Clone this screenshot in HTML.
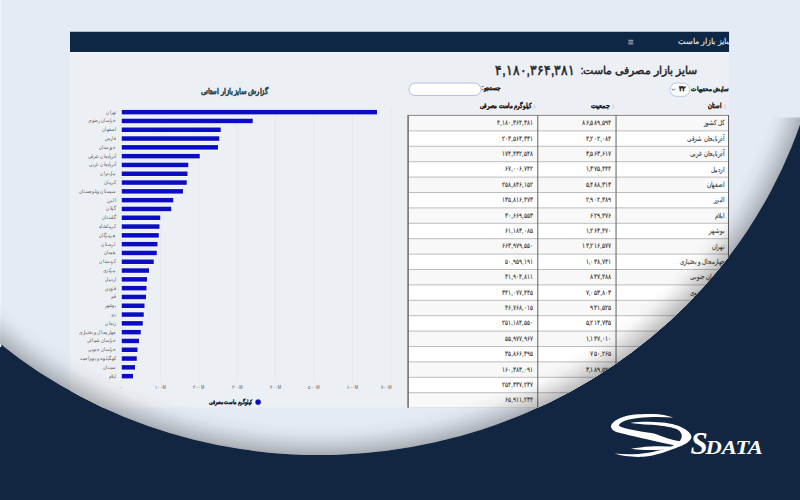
<!DOCTYPE html>
<html lang="fa"><head><meta charset="utf-8"><title>SDATA</title>
<style>
*{box-sizing:border-box;margin:0;padding:0}
html,body{width:800px;height:500px;overflow:hidden;background:#132641;font-family:"Liberation Sans",sans-serif}
.abs{position:absolute}
svg text{font-family:"Liberation Sans",sans-serif;direction:rtl;unicode-bidi:embed}
svg text.ltr{direction:ltr}
</style></head><body>

<svg class="abs" style="left:0;top:0" width="800" height="500" viewBox="0 0 800 500">
<ellipse cx="326.93" cy="-16.67" rx="498.48" ry="471.27" transform="rotate(-7.302 326.93 -16.67)" fill="#e4ebf4"/>
<rect x="0" y="0" width="800" height="117.5" fill="#e4ebf4"/>
<rect x="0" y="0" width="1.2" height="347" fill="#eef3f8"/>
<rect x="70" y="30.5" width="659.2" height="1" fill="#ffffff" opacity="0.4"/>
</svg>

<svg class="abs" style="left:0;top:0" width="800" height="500" viewBox="0 0 800 500">
<defs><clipPath id="ell"><ellipse cx="326.93" cy="-16.67" rx="498.48" ry="471.27" transform="rotate(-7.302 326.93 -16.67)"/></clipPath><clipPath id="shotclip"><rect x="70" y="31.5" width="659.2" height="376.3"/></clipPath></defs><g clip-path="url(#ell)">
<g clip-path="url(#shotclip)">
<rect x="70" y="31.5" width="659.2" height="376.3" fill="#eceff3"/>
<rect x="70" y="31.5" width="659.2" height="20.5" fill="#0d2745"/>
<rect x="70" y="52" width="659.2" height="1" fill="#ffffff" opacity="0.45"/>
<rect x="628.3" y="39.80" width="5" height="1" fill="#a9b2c1"/>
<rect x="628.3" y="41.60" width="5" height="1" fill="#a9b2c1"/>
<rect x="628.3" y="43.40" width="5" height="1" fill="#a9b2c1"/>
<rect x="121.35" y="107.5" width="0.8" height="275" fill="#e4e7eb"/>
<rect x="159.80" y="107.5" width="0.8" height="275" fill="#e4e7eb"/>
<rect x="198.25" y="107.5" width="0.8" height="275" fill="#e4e7eb"/>
<rect x="236.70" y="107.5" width="0.8" height="275" fill="#e4e7eb"/>
<rect x="275.15" y="107.5" width="0.8" height="275" fill="#e4e7eb"/>
<rect x="313.60" y="107.5" width="0.8" height="275" fill="#e4e7eb"/>
<rect x="352.05" y="107.5" width="0.8" height="275" fill="#e4e7eb"/>
<rect x="390.50" y="107.5" width="0.8" height="275" fill="#e4e7eb"/>
<rect x="120.95" y="109.10" width="256.85" height="6.10" fill="#fafbfd" opacity="0.8"/>
<rect x="121.75" y="109.90" width="255.25" height="4.50" fill="#0c0cc4"/>
<rect x="120.95" y="117.90" width="132.60" height="6.10" fill="#fafbfd" opacity="0.8"/>
<rect x="121.75" y="118.70" width="131.00" height="4.50" fill="#0c0cc4"/>
<rect x="120.95" y="126.70" width="100.60" height="6.10" fill="#fafbfd" opacity="0.8"/>
<rect x="121.75" y="127.50" width="99.00" height="4.50" fill="#0c0cc4"/>
<rect x="120.95" y="135.50" width="99.10" height="6.10" fill="#fafbfd" opacity="0.8"/>
<rect x="121.75" y="136.30" width="97.50" height="4.50" fill="#0c0cc4"/>
<rect x="120.95" y="144.30" width="97.85" height="6.10" fill="#fafbfd" opacity="0.8"/>
<rect x="121.75" y="145.10" width="96.25" height="4.50" fill="#0c0cc4"/>
<rect x="120.95" y="153.10" width="79.60" height="6.10" fill="#fafbfd" opacity="0.8"/>
<rect x="121.75" y="153.90" width="78.00" height="4.50" fill="#0c0cc4"/>
<rect x="120.95" y="161.90" width="68.10" height="6.10" fill="#fafbfd" opacity="0.8"/>
<rect x="121.75" y="162.70" width="66.50" height="4.50" fill="#0c0cc4"/>
<rect x="120.95" y="170.70" width="67.35" height="6.10" fill="#fafbfd" opacity="0.8"/>
<rect x="121.75" y="171.50" width="65.75" height="4.50" fill="#0c0cc4"/>
<rect x="120.95" y="179.50" width="66.60" height="6.10" fill="#fafbfd" opacity="0.8"/>
<rect x="121.75" y="180.30" width="65.00" height="4.50" fill="#0c0cc4"/>
<rect x="120.95" y="188.30" width="62.85" height="6.10" fill="#fafbfd" opacity="0.8"/>
<rect x="121.75" y="189.10" width="61.25" height="4.50" fill="#0c0cc4"/>
<rect x="120.95" y="197.10" width="53.10" height="6.10" fill="#fafbfd" opacity="0.8"/>
<rect x="121.75" y="197.90" width="51.50" height="4.50" fill="#0c0cc4"/>
<rect x="120.95" y="205.90" width="51.10" height="6.10" fill="#fafbfd" opacity="0.8"/>
<rect x="121.75" y="206.70" width="49.50" height="4.50" fill="#0c0cc4"/>
<rect x="120.95" y="214.70" width="40.10" height="6.10" fill="#fafbfd" opacity="0.8"/>
<rect x="121.75" y="215.50" width="38.50" height="4.50" fill="#0c0cc4"/>
<rect x="120.95" y="223.50" width="39.35" height="6.10" fill="#fafbfd" opacity="0.8"/>
<rect x="121.75" y="224.30" width="37.75" height="4.50" fill="#0c0cc4"/>
<rect x="120.95" y="232.30" width="38.60" height="6.10" fill="#fafbfd" opacity="0.8"/>
<rect x="121.75" y="233.10" width="37.00" height="4.50" fill="#0c0cc4"/>
<rect x="120.95" y="241.10" width="37.35" height="6.10" fill="#fafbfd" opacity="0.8"/>
<rect x="121.75" y="241.90" width="35.75" height="4.50" fill="#0c0cc4"/>
<rect x="120.95" y="249.90" width="36.60" height="6.10" fill="#fafbfd" opacity="0.8"/>
<rect x="121.75" y="250.70" width="35.00" height="4.50" fill="#0c0cc4"/>
<rect x="120.95" y="258.70" width="33.60" height="6.10" fill="#fafbfd" opacity="0.8"/>
<rect x="121.75" y="259.50" width="32.00" height="4.50" fill="#0c0cc4"/>
<rect x="120.95" y="267.50" width="28.85" height="6.10" fill="#fafbfd" opacity="0.8"/>
<rect x="121.75" y="268.30" width="27.25" height="4.50" fill="#0c0cc4"/>
<rect x="120.95" y="276.30" width="26.85" height="6.10" fill="#fafbfd" opacity="0.8"/>
<rect x="121.75" y="277.10" width="25.25" height="4.50" fill="#0c0cc4"/>
<rect x="120.95" y="285.10" width="26.35" height="6.10" fill="#fafbfd" opacity="0.8"/>
<rect x="121.75" y="285.90" width="24.75" height="4.50" fill="#0c0cc4"/>
<rect x="120.95" y="293.90" width="25.85" height="6.10" fill="#fafbfd" opacity="0.8"/>
<rect x="121.75" y="294.70" width="24.25" height="4.50" fill="#0c0cc4"/>
<rect x="120.95" y="302.70" width="24.35" height="6.10" fill="#fafbfd" opacity="0.8"/>
<rect x="121.75" y="303.50" width="22.75" height="4.50" fill="#0c0cc4"/>
<rect x="120.95" y="311.50" width="23.60" height="6.10" fill="#fafbfd" opacity="0.8"/>
<rect x="121.75" y="312.30" width="22.00" height="4.50" fill="#0c0cc4"/>
<rect x="120.95" y="320.30" width="22.60" height="6.10" fill="#fafbfd" opacity="0.8"/>
<rect x="121.75" y="321.10" width="21.00" height="4.50" fill="#0c0cc4"/>
<rect x="120.95" y="329.10" width="20.60" height="6.10" fill="#fafbfd" opacity="0.8"/>
<rect x="121.75" y="329.90" width="19.00" height="4.50" fill="#0c0cc4"/>
<rect x="120.95" y="337.90" width="18.85" height="6.10" fill="#fafbfd" opacity="0.8"/>
<rect x="121.75" y="338.70" width="17.25" height="4.50" fill="#0c0cc4"/>
<rect x="120.95" y="346.70" width="17.35" height="6.10" fill="#fafbfd" opacity="0.8"/>
<rect x="121.75" y="347.50" width="15.75" height="4.50" fill="#0c0cc4"/>
<rect x="120.95" y="355.50" width="16.60" height="6.10" fill="#fafbfd" opacity="0.8"/>
<rect x="121.75" y="356.30" width="15.00" height="4.50" fill="#0c0cc4"/>
<rect x="120.95" y="364.30" width="14.85" height="6.10" fill="#fafbfd" opacity="0.8"/>
<rect x="121.75" y="365.10" width="13.25" height="4.50" fill="#0c0cc4"/>
<rect x="120.95" y="373.10" width="12.85" height="6.10" fill="#fafbfd" opacity="0.8"/>
<rect x="121.75" y="373.90" width="11.25" height="4.50" fill="#0c0cc4"/>
<circle cx="258.1" cy="402.1" r="2.6" fill="#0b0bd0" stroke="#1a1a80" stroke-width="0.4"/>
<rect x="670" y="83" width="19.7" height="13.3" rx="6.65" fill="#fbfcfe" stroke="#b3c2e2" stroke-width="0.9"/>
<path d="M671.9,88.7 L673.4,90.3 L674.9,88.7" fill="none" stroke="#3a3a3a" stroke-width="0.75"/>
<rect x="409" y="83.1" width="72" height="12.4" rx="6.2" fill="#ffffff" stroke="#a9badf" stroke-width="0.9"/>
<rect x="533.20" y="104.3" width="2.4" height="4.8" rx="1.2" fill="#dcdde0"/>
<rect x="611.90" y="104.3" width="2.4" height="4.8" rx="1.2" fill="#dcdde0"/>
<rect x="723.80" y="104.3" width="2.4" height="4.8" rx="1.2" fill="#dcdde0"/>
<rect x="408" y="115.30" width="320.6" height="15.40" fill="#f8f8f8"/>
<rect x="408" y="115.00" width="320.6" height="1" fill="#bdbdbd"/>
<rect x="408" y="130.70" width="320.6" height="15.40" fill="#ffffff"/>
<rect x="408" y="130.40" width="320.6" height="1" fill="#bdbdbd"/>
<rect x="408" y="146.10" width="320.6" height="15.40" fill="#f8f8f8"/>
<rect x="408" y="145.80" width="320.6" height="1" fill="#bdbdbd"/>
<rect x="408" y="161.50" width="320.6" height="15.40" fill="#ffffff"/>
<rect x="408" y="161.20" width="320.6" height="1" fill="#bdbdbd"/>
<rect x="408" y="176.90" width="320.6" height="15.40" fill="#f8f8f8"/>
<rect x="408" y="176.60" width="320.6" height="1" fill="#bdbdbd"/>
<rect x="408" y="192.30" width="320.6" height="15.40" fill="#ffffff"/>
<rect x="408" y="192.00" width="320.6" height="1" fill="#bdbdbd"/>
<rect x="408" y="207.70" width="320.6" height="15.40" fill="#f8f8f8"/>
<rect x="408" y="207.40" width="320.6" height="1" fill="#bdbdbd"/>
<rect x="408" y="223.10" width="320.6" height="15.40" fill="#ffffff"/>
<rect x="408" y="222.80" width="320.6" height="1" fill="#bdbdbd"/>
<rect x="408" y="238.50" width="320.6" height="15.40" fill="#f8f8f8"/>
<rect x="408" y="238.20" width="320.6" height="1" fill="#bdbdbd"/>
<rect x="408" y="253.90" width="320.6" height="15.40" fill="#ffffff"/>
<rect x="408" y="253.60" width="320.6" height="1" fill="#bdbdbd"/>
<rect x="408" y="269.30" width="320.6" height="15.40" fill="#f8f8f8"/>
<rect x="408" y="269.00" width="320.6" height="1" fill="#bdbdbd"/>
<rect x="408" y="284.70" width="320.6" height="15.40" fill="#ffffff"/>
<rect x="408" y="284.40" width="320.6" height="1" fill="#bdbdbd"/>
<rect x="408" y="300.10" width="320.6" height="15.40" fill="#f8f8f8"/>
<rect x="408" y="299.80" width="320.6" height="1" fill="#bdbdbd"/>
<rect x="408" y="315.50" width="320.6" height="15.40" fill="#ffffff"/>
<rect x="408" y="315.20" width="320.6" height="1" fill="#bdbdbd"/>
<rect x="408" y="330.90" width="320.6" height="15.40" fill="#f8f8f8"/>
<rect x="408" y="330.60" width="320.6" height="1" fill="#bdbdbd"/>
<rect x="408" y="346.30" width="320.6" height="15.40" fill="#ffffff"/>
<rect x="408" y="346.00" width="320.6" height="1" fill="#bdbdbd"/>
<rect x="408" y="361.70" width="320.6" height="15.40" fill="#f8f8f8"/>
<rect x="408" y="361.40" width="320.6" height="1" fill="#bdbdbd"/>
<rect x="408" y="377.10" width="320.6" height="15.40" fill="#ffffff"/>
<rect x="408" y="376.80" width="320.6" height="1" fill="#bdbdbd"/>
<rect x="408" y="392.50" width="320.6" height="15.40" fill="#f8f8f8"/>
<rect x="408" y="392.20" width="320.6" height="1" fill="#bdbdbd"/>
<rect x="408" y="407.90" width="320.6" height="15.40" fill="#ffffff"/>
<rect x="408" y="407.60" width="320.6" height="1" fill="#bdbdbd"/>
<rect x="408" y="114.9" width="320.6" height="1" fill="#8e8e8e"/>
<rect x="407.3" y="115" width="1.6" height="300" fill="#747474"/>
<rect x="537.2" y="115" width="1.1" height="300" fill="#6f6f6f"/>
<rect x="615.5" y="115" width="1.1" height="300" fill="#6f6f6f"/>
<rect x="728" y="115" width="1.1" height="300" fill="#5e5e5e"/>
</g>
<defs><clipPath id="hclip"><rect x="70" y="31.5" width="659.2" height="20.5"/></clipPath></defs>
<g clip-path="url(#hclip)"><text x="732.8" y="44.4" font-size="8.4" fill="#e6eaf0" stroke="#e6eaf0" stroke-width="0.12" text-anchor="start" textLength="54.8" lengthAdjust="spacingAndGlyphs">سایز بازار ماست</text></g>
<g clip-path="url(#shotclip)">
<text x="268.10" y="93.80" font-size="7.60" fill="#2d4a4f" text-anchor="start" font-weight="bold" stroke="#2d4a4f" stroke-width="0.25" textLength="67.50" lengthAdjust="spacingAndGlyphs">گزارش سایز بازار استانی</text>
<text x="115.60" y="113.65" font-size="5.40" fill="#686868" text-anchor="start" stroke="#686868" stroke-width="0.06" textLength="9.35" lengthAdjust="spacingAndGlyphs">تهران</text>
<text x="115.60" y="122.45" font-size="5.40" fill="#686868" text-anchor="start" stroke="#686868" stroke-width="0.06" textLength="27.20" lengthAdjust="spacingAndGlyphs">خراسان رضوی</text>
<text x="115.60" y="131.25" font-size="5.40" fill="#686868" text-anchor="start" stroke="#686868" stroke-width="0.06" textLength="13.60" lengthAdjust="spacingAndGlyphs">اصفهان</text>
<text x="115.60" y="140.05" font-size="5.40" fill="#686868" text-anchor="start" stroke="#686868" stroke-width="0.06" textLength="10.20" lengthAdjust="spacingAndGlyphs">فارس</text>
<text x="115.60" y="148.85" font-size="5.40" fill="#686868" text-anchor="start" stroke="#686868" stroke-width="0.06" textLength="17.00" lengthAdjust="spacingAndGlyphs">خوزستان</text>
<text x="115.60" y="157.65" font-size="5.40" fill="#686868" text-anchor="start" stroke="#686868" stroke-width="0.06" textLength="28.05" lengthAdjust="spacingAndGlyphs">آذربایجان شرقی</text>
<text x="115.60" y="166.45" font-size="5.40" fill="#686868" text-anchor="start" stroke="#686868" stroke-width="0.06" textLength="26.35" lengthAdjust="spacingAndGlyphs">آذربایجان غربی</text>
<text x="115.60" y="175.25" font-size="5.40" fill="#686868" text-anchor="start" stroke="#686868" stroke-width="0.06" textLength="15.30" lengthAdjust="spacingAndGlyphs">مازندران</text>
<text x="115.60" y="184.05" font-size="5.40" fill="#686868" text-anchor="start" stroke="#686868" stroke-width="0.06" textLength="11.90" lengthAdjust="spacingAndGlyphs">کرمان</text>
<text x="115.60" y="192.85" font-size="5.40" fill="#686868" text-anchor="start" stroke="#686868" stroke-width="0.06" textLength="36.55" lengthAdjust="spacingAndGlyphs">سیستان وبلوچستان</text>
<text x="115.60" y="201.65" font-size="5.40" fill="#686868" text-anchor="start" stroke="#686868" stroke-width="0.06" textLength="8.50" lengthAdjust="spacingAndGlyphs">البرز</text>
<text x="115.60" y="210.45" font-size="5.40" fill="#686868" text-anchor="start" stroke="#686868" stroke-width="0.06" textLength="9.35" lengthAdjust="spacingAndGlyphs">گیلان</text>
<text x="115.60" y="219.25" font-size="5.40" fill="#686868" text-anchor="start" stroke="#686868" stroke-width="0.06" textLength="13.60" lengthAdjust="spacingAndGlyphs">گلستان</text>
<text x="115.60" y="228.05" font-size="5.40" fill="#686868" text-anchor="start" stroke="#686868" stroke-width="0.06" textLength="17.00" lengthAdjust="spacingAndGlyphs">کرمانشاه</text>
<text x="115.60" y="236.85" font-size="5.40" fill="#686868" text-anchor="start" stroke="#686868" stroke-width="0.06" textLength="17.00" lengthAdjust="spacingAndGlyphs">هرمزگان</text>
<text x="115.60" y="245.65" font-size="5.40" fill="#686868" text-anchor="start" stroke="#686868" stroke-width="0.06" textLength="14.45" lengthAdjust="spacingAndGlyphs">لرستان</text>
<text x="115.60" y="254.45" font-size="5.40" fill="#686868" text-anchor="start" stroke="#686868" stroke-width="0.06" textLength="11.90" lengthAdjust="spacingAndGlyphs">همدان</text>
<text x="115.60" y="263.25" font-size="5.40" fill="#686868" text-anchor="start" stroke="#686868" stroke-width="0.06" textLength="16.15" lengthAdjust="spacingAndGlyphs">کردستان</text>
<text x="115.60" y="272.05" font-size="5.40" fill="#686868" text-anchor="start" stroke="#686868" stroke-width="0.06" textLength="12.75" lengthAdjust="spacingAndGlyphs">مرکزی</text>
<text x="115.60" y="280.85" font-size="5.40" fill="#686868" text-anchor="start" stroke="#686868" stroke-width="0.06" textLength="10.20" lengthAdjust="spacingAndGlyphs">اردبیل</text>
<text x="115.60" y="289.65" font-size="5.40" fill="#686868" text-anchor="start" stroke="#686868" stroke-width="0.06" textLength="10.20" lengthAdjust="spacingAndGlyphs">قزوین</text>
<text x="115.60" y="298.45" font-size="5.40" fill="#686868" text-anchor="start" stroke="#686868" stroke-width="0.06" textLength="4.25" lengthAdjust="spacingAndGlyphs">قم</text>
<text x="115.60" y="307.25" font-size="5.40" fill="#686868" text-anchor="start" stroke="#686868" stroke-width="0.06" textLength="11.05" lengthAdjust="spacingAndGlyphs">بوشهر</text>
<text x="115.60" y="316.05" font-size="5.40" fill="#686868" text-anchor="start" stroke="#686868" stroke-width="0.06" textLength="5.10" lengthAdjust="spacingAndGlyphs">یزد</text>
<text x="115.60" y="324.85" font-size="5.40" fill="#686868" text-anchor="start" stroke="#686868" stroke-width="0.06" textLength="10.20" lengthAdjust="spacingAndGlyphs">زنجان</text>
<text x="115.60" y="333.65" font-size="5.40" fill="#686868" text-anchor="start" stroke="#686868" stroke-width="0.06" textLength="36.55" lengthAdjust="spacingAndGlyphs">چهارمحال و بختیاری</text>
<text x="115.60" y="342.45" font-size="5.40" fill="#686868" text-anchor="start" stroke="#686868" stroke-width="0.06" textLength="28.90" lengthAdjust="spacingAndGlyphs">خراسان شمالی</text>
<text x="115.60" y="351.25" font-size="5.40" fill="#686868" text-anchor="start" stroke="#686868" stroke-width="0.06" textLength="27.20" lengthAdjust="spacingAndGlyphs">خراسان جنوبی</text>
<text x="115.60" y="360.05" font-size="5.40" fill="#686868" text-anchor="start" stroke="#686868" stroke-width="0.06" textLength="35.70" lengthAdjust="spacingAndGlyphs">کهگیلویه و بویراحمد</text>
<text x="115.60" y="368.85" font-size="5.40" fill="#686868" text-anchor="start" stroke="#686868" stroke-width="0.06" textLength="12.75" lengthAdjust="spacingAndGlyphs">سمنان</text>
<text x="115.60" y="377.65" font-size="5.40" fill="#686868" text-anchor="start" stroke="#686868" stroke-width="0.06" textLength="6.80" lengthAdjust="spacingAndGlyphs">ایلام</text>
<text x="121.75" y="388.60" font-size="4.60" fill="#7c7c7c" text-anchor="middle" stroke="#7c7c7c" stroke-width="0.10" textLength="2.55" lengthAdjust="spacingAndGlyphs">۰</text>
<text x="160.20" y="388.60" font-size="4.60" fill="#7c7c7c" text-anchor="middle" stroke="#7c7c7c" stroke-width="0.10" textLength="11.05" lengthAdjust="spacingAndGlyphs">۱۰۰M</text>
<text x="198.65" y="388.60" font-size="4.60" fill="#7c7c7c" text-anchor="middle" stroke="#7c7c7c" stroke-width="0.10" textLength="11.05" lengthAdjust="spacingAndGlyphs">۲۰۰M</text>
<text x="237.10" y="388.60" font-size="4.60" fill="#7c7c7c" text-anchor="middle" stroke="#7c7c7c" stroke-width="0.10" textLength="11.05" lengthAdjust="spacingAndGlyphs">۳۰۰M</text>
<text x="275.55" y="388.60" font-size="4.60" fill="#7c7c7c" text-anchor="middle" stroke="#7c7c7c" stroke-width="0.10" textLength="11.05" lengthAdjust="spacingAndGlyphs">۴۰۰M</text>
<text x="314.00" y="388.60" font-size="4.60" fill="#7c7c7c" text-anchor="middle" stroke="#7c7c7c" stroke-width="0.10" textLength="11.05" lengthAdjust="spacingAndGlyphs">۵۰۰M</text>
<text x="352.45" y="388.60" font-size="4.60" fill="#7c7c7c" text-anchor="middle" stroke="#7c7c7c" stroke-width="0.10" textLength="11.05" lengthAdjust="spacingAndGlyphs">۶۰۰M</text>
<text x="386.10" y="388.60" font-size="4.60" fill="#7c7c7c" text-anchor="middle" stroke="#7c7c7c" stroke-width="0.10" textLength="11.05" lengthAdjust="spacingAndGlyphs">۷۰۰M</text>
<text x="252.40" y="404.20" font-size="6.30" fill="#222" text-anchor="start" font-weight="bold" stroke="#222" stroke-width="0.15" textLength="43.50" lengthAdjust="spacingAndGlyphs">کیلوگرم ماست مصرفی</text>
<text x="696.60" y="73.90" font-size="10.80" fill="#222" text-anchor="start" stroke="#222" stroke-width="0.45" textLength="116.20" lengthAdjust="spacingAndGlyphs">سایز بازار مصرفی ماست:</text>
<text x="575.40" y="74.60" font-size="14.00" fill="#222" text-anchor="start" stroke="#222" stroke-width="0.50" textLength="80.20" lengthAdjust="spacingAndGlyphs">۴,۱۸۰,۳۶۴,۳۸۱</text>
<text x="728.90" y="90.60" font-size="6.40" fill="#222" text-anchor="start" font-weight="bold" stroke="#222" stroke-width="0.15" textLength="37.80" lengthAdjust="spacingAndGlyphs">نمایش محتویات</text>
<text x="686.30" y="90.80" font-size="6.80" fill="#222" text-anchor="start" font-weight="bold" stroke="#222" stroke-width="0.20" textLength="7.60" lengthAdjust="spacingAndGlyphs">۳۲</text>
<text x="501.10" y="89.80" font-size="6.40" fill="#222" text-anchor="start" font-weight="bold" stroke="#222" stroke-width="0.15" textLength="19.60" lengthAdjust="spacingAndGlyphs">جستجو:</text>
<text x="721.10" y="108.20" font-size="6.60" fill="#222" text-anchor="start" font-weight="bold" stroke="#222" stroke-width="0.20" textLength="13.10" lengthAdjust="spacingAndGlyphs">استان</text>
<text x="609.25" y="107.70" font-size="6.60" fill="#222" text-anchor="start" font-weight="bold" stroke="#222" stroke-width="0.20" textLength="18.25" lengthAdjust="spacingAndGlyphs">جمعیت</text>
<text x="530.80" y="107.70" font-size="6.60" fill="#222" text-anchor="start" font-weight="bold" stroke="#222" stroke-width="0.20" textLength="50.90" lengthAdjust="spacingAndGlyphs">کیلوگرم ماست مصرفی</text>
<text x="724.30" y="125.30" font-size="7.00" fill="#383838" text-anchor="start" stroke="#383838" stroke-width="0.12" textLength="20.54" lengthAdjust="spacingAndGlyphs">کل کشور</text>
<text x="611.80" y="125.10" font-size="7.00" fill="#383838" text-anchor="start" stroke="#383838" stroke-width="0.15" textLength="29.52" lengthAdjust="spacingAndGlyphs">۸۶,۵۸۹,۵۹۴</text>
<text x="533.00" y="125.10" font-size="7.00" fill="#383838" text-anchor="start" stroke="#383838" stroke-width="0.15" textLength="35.88" lengthAdjust="spacingAndGlyphs">۴,۱۸۰,۳۶۴,۳۸۱</text>
<text x="724.30" y="140.70" font-size="7.00" fill="#383838" text-anchor="start" stroke="#383838" stroke-width="0.12" textLength="37.13" lengthAdjust="spacingAndGlyphs">آذربایجان شرقی</text>
<text x="611.80" y="140.50" font-size="7.00" fill="#383838" text-anchor="start" stroke="#383838" stroke-width="0.15" textLength="26.24" lengthAdjust="spacingAndGlyphs">۴,۲۰۲,۰۸۴</text>
<text x="533.00" y="140.50" font-size="7.00" fill="#383838" text-anchor="start" stroke="#383838" stroke-width="0.15" textLength="31.20" lengthAdjust="spacingAndGlyphs">۲۰۳,۵۶۳,۳۳۱</text>
<text x="724.30" y="156.10" font-size="7.00" fill="#383838" text-anchor="start" stroke="#383838" stroke-width="0.12" textLength="34.76" lengthAdjust="spacingAndGlyphs">آذربایجان غربی</text>
<text x="611.80" y="155.90" font-size="7.00" fill="#383838" text-anchor="start" stroke="#383838" stroke-width="0.15" textLength="26.24" lengthAdjust="spacingAndGlyphs">۳,۵۶۳,۶۱۷</text>
<text x="533.00" y="155.90" font-size="7.00" fill="#383838" text-anchor="start" stroke="#383838" stroke-width="0.15" textLength="31.20" lengthAdjust="spacingAndGlyphs">۱۷۴,۴۳۲,۵۴۸</text>
<text x="724.30" y="171.50" font-size="7.00" fill="#383838" text-anchor="start" stroke="#383838" stroke-width="0.12" textLength="13.43" lengthAdjust="spacingAndGlyphs">اردبیل</text>
<text x="611.80" y="171.30" font-size="7.00" fill="#383838" text-anchor="start" stroke="#383838" stroke-width="0.15" textLength="26.24" lengthAdjust="spacingAndGlyphs">۱,۳۷۵,۴۴۴</text>
<text x="533.00" y="171.30" font-size="7.00" fill="#383838" text-anchor="start" stroke="#383838" stroke-width="0.15" textLength="28.08" lengthAdjust="spacingAndGlyphs">۶۷,۰۰۶,۷۴۲</text>
<text x="724.30" y="186.90" font-size="7.00" fill="#383838" text-anchor="start" stroke="#383838" stroke-width="0.12" textLength="17.38" lengthAdjust="spacingAndGlyphs">اصفهان</text>
<text x="611.80" y="186.70" font-size="7.00" fill="#383838" text-anchor="start" stroke="#383838" stroke-width="0.15" textLength="26.24" lengthAdjust="spacingAndGlyphs">۵,۴۸۸,۳۱۳</text>
<text x="533.00" y="186.70" font-size="7.00" fill="#383838" text-anchor="start" stroke="#383838" stroke-width="0.15" textLength="31.20" lengthAdjust="spacingAndGlyphs">۲۵۸,۸۴۶,۱۵۲</text>
<text x="724.30" y="202.30" font-size="7.00" fill="#383838" text-anchor="start" stroke="#383838" stroke-width="0.12" textLength="10.27" lengthAdjust="spacingAndGlyphs">البرز</text>
<text x="611.80" y="202.10" font-size="7.00" fill="#383838" text-anchor="start" stroke="#383838" stroke-width="0.15" textLength="26.24" lengthAdjust="spacingAndGlyphs">۲,۹۰۲,۳۸۹</text>
<text x="533.00" y="202.10" font-size="7.00" fill="#383838" text-anchor="start" stroke="#383838" stroke-width="0.15" textLength="31.20" lengthAdjust="spacingAndGlyphs">۱۳۵,۸۱۶,۴۷۳</text>
<text x="724.30" y="217.70" font-size="7.00" fill="#383838" text-anchor="start" stroke="#383838" stroke-width="0.12" textLength="9.48" lengthAdjust="spacingAndGlyphs">ایلام</text>
<text x="611.80" y="217.50" font-size="7.00" fill="#383838" text-anchor="start" stroke="#383838" stroke-width="0.15" textLength="21.32" lengthAdjust="spacingAndGlyphs">۶۲۹,۴۷۶</text>
<text x="533.00" y="217.50" font-size="7.00" fill="#383838" text-anchor="start" stroke="#383838" stroke-width="0.15" textLength="28.08" lengthAdjust="spacingAndGlyphs">۳۰,۶۶۹,۵۵۳</text>
<text x="724.30" y="233.10" font-size="7.00" fill="#383838" text-anchor="start" stroke="#383838" stroke-width="0.12" textLength="15.01" lengthAdjust="spacingAndGlyphs">بوشهر</text>
<text x="611.80" y="232.90" font-size="7.00" fill="#383838" text-anchor="start" stroke="#383838" stroke-width="0.15" textLength="26.24" lengthAdjust="spacingAndGlyphs">۱,۲۶۳,۴۷۰</text>
<text x="533.00" y="232.90" font-size="7.00" fill="#383838" text-anchor="start" stroke="#383838" stroke-width="0.15" textLength="28.08" lengthAdjust="spacingAndGlyphs">۶۱,۱۸۳,۰۸۵</text>
<text x="724.30" y="248.50" font-size="7.00" fill="#383838" text-anchor="start" stroke="#383838" stroke-width="0.12" textLength="12.64" lengthAdjust="spacingAndGlyphs">تهران</text>
<text x="611.80" y="248.30" font-size="7.00" fill="#383838" text-anchor="start" stroke="#383838" stroke-width="0.15" textLength="29.52" lengthAdjust="spacingAndGlyphs">۱۴,۲۱۶,۵۷۷</text>
<text x="533.00" y="248.30" font-size="7.00" fill="#383838" text-anchor="start" stroke="#383838" stroke-width="0.15" textLength="31.20" lengthAdjust="spacingAndGlyphs">۶۶۳,۹۷۹,۵۵۰</text>
<text x="724.30" y="263.90" font-size="7.00" fill="#383838" text-anchor="start" stroke="#383838" stroke-width="0.12" textLength="44.24" lengthAdjust="spacingAndGlyphs">چهارمحال و بختیاری</text>
<text x="611.80" y="263.70" font-size="7.00" fill="#383838" text-anchor="start" stroke="#383838" stroke-width="0.15" textLength="26.24" lengthAdjust="spacingAndGlyphs">۱,۰۳۸,۷۴۱</text>
<text x="533.00" y="263.70" font-size="7.00" fill="#383838" text-anchor="start" stroke="#383838" stroke-width="0.15" textLength="28.08" lengthAdjust="spacingAndGlyphs">۵۰,۹۵۹,۱۹۱</text>
<text x="724.30" y="279.30" font-size="7.00" fill="#383838" text-anchor="start" stroke="#383838" stroke-width="0.12" textLength="33.97" lengthAdjust="spacingAndGlyphs">خراسان جنوبی</text>
<text x="611.80" y="279.10" font-size="7.00" fill="#383838" text-anchor="start" stroke="#383838" stroke-width="0.15" textLength="21.32" lengthAdjust="spacingAndGlyphs">۸۴۷,۴۸۸</text>
<text x="533.00" y="279.10" font-size="7.00" fill="#383838" text-anchor="start" stroke="#383838" stroke-width="0.15" textLength="28.08" lengthAdjust="spacingAndGlyphs">۴۱,۹۰۴,۸۱۱</text>
<text x="724.30" y="294.70" font-size="7.00" fill="#383838" text-anchor="start" stroke="#383838" stroke-width="0.12" textLength="33.97" lengthAdjust="spacingAndGlyphs">خراسان رضوی</text>
<text x="611.80" y="294.50" font-size="7.00" fill="#383838" text-anchor="start" stroke="#383838" stroke-width="0.15" textLength="26.24" lengthAdjust="spacingAndGlyphs">۷,۰۵۳,۸۰۳</text>
<text x="533.00" y="294.50" font-size="7.00" fill="#383838" text-anchor="start" stroke="#383838" stroke-width="0.15" textLength="31.20" lengthAdjust="spacingAndGlyphs">۳۴۱,۰۷۷,۴۴۵</text>
<text x="724.30" y="310.10" font-size="7.00" fill="#383838" text-anchor="start" stroke="#383838" stroke-width="0.12" textLength="35.55" lengthAdjust="spacingAndGlyphs">خراسان شمالی</text>
<text x="611.80" y="309.90" font-size="7.00" fill="#383838" text-anchor="start" stroke="#383838" stroke-width="0.15" textLength="21.32" lengthAdjust="spacingAndGlyphs">۹۴۱,۵۲۵</text>
<text x="533.00" y="309.90" font-size="7.00" fill="#383838" text-anchor="start" stroke="#383838" stroke-width="0.15" textLength="28.08" lengthAdjust="spacingAndGlyphs">۴۶,۷۶۸,۰۱۵</text>
<text x="724.30" y="325.50" font-size="7.00" fill="#383838" text-anchor="start" stroke="#383838" stroke-width="0.12" textLength="20.54" lengthAdjust="spacingAndGlyphs">خوزستان</text>
<text x="611.80" y="325.30" font-size="7.00" fill="#383838" text-anchor="start" stroke="#383838" stroke-width="0.15" textLength="26.24" lengthAdjust="spacingAndGlyphs">۵,۲۱۴,۷۳۵</text>
<text x="533.00" y="325.30" font-size="7.00" fill="#383838" text-anchor="start" stroke="#383838" stroke-width="0.15" textLength="31.20" lengthAdjust="spacingAndGlyphs">۲۵۱,۱۸۴,۵۵۰</text>
<text x="724.30" y="340.90" font-size="7.00" fill="#383838" text-anchor="start" stroke="#383838" stroke-width="0.12" textLength="13.43" lengthAdjust="spacingAndGlyphs">زنجان</text>
<text x="611.80" y="340.70" font-size="7.00" fill="#383838" text-anchor="start" stroke="#383838" stroke-width="0.15" textLength="26.24" lengthAdjust="spacingAndGlyphs">۱,۱۴۷,۰۱۰</text>
<text x="533.00" y="340.70" font-size="7.00" fill="#383838" text-anchor="start" stroke="#383838" stroke-width="0.15" textLength="28.08" lengthAdjust="spacingAndGlyphs">۵۵,۹۷۷,۹۶۷</text>
<text x="724.30" y="356.30" font-size="7.00" fill="#383838" text-anchor="start" stroke="#383838" stroke-width="0.12" textLength="15.01" lengthAdjust="spacingAndGlyphs">سمنان</text>
<text x="611.80" y="356.10" font-size="7.00" fill="#383838" text-anchor="start" stroke="#383838" stroke-width="0.15" textLength="21.32" lengthAdjust="spacingAndGlyphs">۷۵۰,۲۶۵</text>
<text x="533.00" y="356.10" font-size="7.00" fill="#383838" text-anchor="start" stroke="#383838" stroke-width="0.15" textLength="28.08" lengthAdjust="spacingAndGlyphs">۳۵,۸۶۶,۳۹۵</text>
<text x="724.30" y="371.70" font-size="7.00" fill="#383838" text-anchor="start" stroke="#383838" stroke-width="0.12" textLength="45.03" lengthAdjust="spacingAndGlyphs">سیستان و بلوچستان</text>
<text x="611.80" y="371.50" font-size="7.00" fill="#383838" text-anchor="start" stroke="#383838" stroke-width="0.15" textLength="26.24" lengthAdjust="spacingAndGlyphs">۳,۱۸۹,۵۹۵</text>
<text x="533.00" y="371.50" font-size="7.00" fill="#383838" text-anchor="start" stroke="#383838" stroke-width="0.15" textLength="31.20" lengthAdjust="spacingAndGlyphs">۱۶۰,۳۸۳,۰۹۱</text>
<text x="724.30" y="387.10" font-size="7.00" fill="#383838" text-anchor="start" stroke="#383838" stroke-width="0.12" textLength="13.43" lengthAdjust="spacingAndGlyphs">فارس</text>
<text x="611.80" y="386.90" font-size="7.00" fill="#383838" text-anchor="start" stroke="#383838" stroke-width="0.15" textLength="26.24" lengthAdjust="spacingAndGlyphs">۵,۲۸۲,۴۴۱</text>
<text x="533.00" y="386.90" font-size="7.00" fill="#383838" text-anchor="start" stroke="#383838" stroke-width="0.15" textLength="31.20" lengthAdjust="spacingAndGlyphs">۲۵۴,۳۳۷,۲۳۷</text>
<text x="724.30" y="402.50" font-size="7.00" fill="#383838" text-anchor="start" stroke="#383838" stroke-width="0.12" textLength="13.43" lengthAdjust="spacingAndGlyphs">قزوین</text>
<text x="611.80" y="402.30" font-size="7.00" fill="#383838" text-anchor="start" stroke="#383838" stroke-width="0.15" textLength="26.24" lengthAdjust="spacingAndGlyphs">۱,۲۷۳,۷۶۱</text>
<text x="533.00" y="402.30" font-size="7.00" fill="#383838" text-anchor="start" stroke="#383838" stroke-width="0.15" textLength="28.08" lengthAdjust="spacingAndGlyphs">۶۵,۹۱۱,۲۳۴</text>
</g></g></svg>
<svg class="abs" style="left:0;top:0" width="800" height="500" viewBox="0 0 800 500">
<defs>
<radialGradient id="sh" cx="0.5" cy="0.5" r="0.5">
<stop offset="0.935" stop-color="#000" stop-opacity="0"/>
<stop offset="0.955" stop-color="#000" stop-opacity="0.03"/>
<stop offset="0.971" stop-color="#000" stop-opacity="0.10"/>
<stop offset="0.988" stop-color="#000" stop-opacity="0.19"/>
<stop offset="1" stop-color="#000" stop-opacity="0.26"/>
</radialGradient>
<clipPath id="cp"><rect x="0" y="117.5" width="800" height="400"/></clipPath>
</defs>
<g clip-path="url(#cp)">
<ellipse cx="326.93" cy="-16.67" rx="498.48" ry="471.27" transform="rotate(-7.302 326.93 -16.67)" fill="url(#sh)"/>
</g>
</svg>

<svg class="abs" style="left:0;top:0" width="800" height="500" viewBox="0 0 800 500">
<g fill="#fff">
<path d="M673.4,417.6 C668,415.6 660,414.2 653,414 C643,413.8 630,414.2 623,417 C617,419 612,422 611,426 C610.8,428.5 613,431 618.2,432.6 C625,434.5 633,436 641,438 C650,440 660,442.3 671.6,444.8 L678,446 L681,441.5 C672,440 664,437.6 655,433.8 C650,432.6 645,432 641,431.4 C634,430.2 627,428.8 621.8,427.2 C619,426.3 618.5,425 619.4,424.2 C620.5,422.5 624,420.8 629,419.4 C634,418.3 641,417.6 648,417.2 C656,416.8 665,416.9 673.4,417.6 Z"/>
<path d="M630.2,423 C640,421.6 650,421.6 662,422.4 C672,423.2 680,425.6 685.6,429.4 C690,432.4 691.8,435 691.4,437.2 C691,440 687.8,442.8 683.6,444.8 C677,448 668,451 662,453 C655,455 650,456.2 643,456.8 C633,457.4 622,456 614.6,453.6 C625,454.6 637,454.6 650,452.4 C660,450.6 670,447.5 676,444.2 C679.5,442 681.8,439 681.8,436 C681.8,432.5 679,429.5 674,428.2 C665,425.8 655,425 650,424.8 C643,424.4 636,423.8 630.2,423 Z"/>
<path d="M630.8,448.8 C637,447.6 644,446.8 650,446.4 C658,446 666,446.2 672,446.8 L674,448.5 C666,449.6 658,450 650,450 C643,450 636,449.6 630.8,448.8 Z"/>
</g>
<text x="690.4" y="454.3" font-family="Liberation Serif" font-style="italic" font-weight="bold" font-size="31" fill="#fff" style="font-family:'Liberation Serif',serif;direction:ltr">S</text><text x="705.4" y="454.3" font-family="Liberation Serif" font-style="italic" font-weight="bold" font-size="18.8" fill="#fff" textLength="57.5" lengthAdjust="spacingAndGlyphs" style="font-family:'Liberation Serif',serif;direction:ltr">DATA</text>
</svg>

</body></html>
